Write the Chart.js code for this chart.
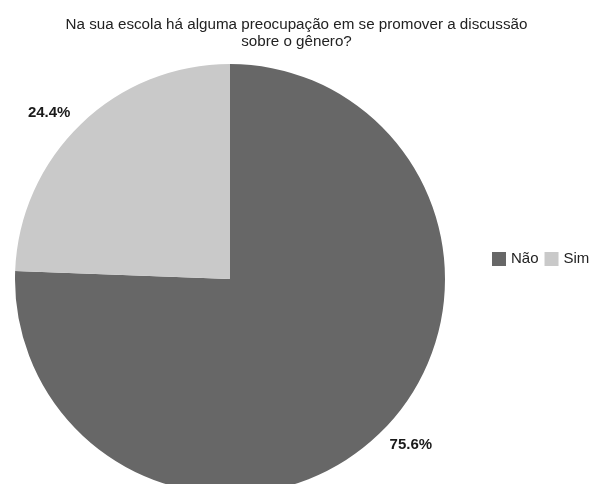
<!DOCTYPE html>
<html>
<head>
<meta charset="utf-8">
<script src="https://cdn.jsdelivr.net/npm/chart.js@4/dist/chart.umd.min.js"></script>
<style>
  html, body { margin: 0; padding: 0; background: #ffffff; overflow: hidden; }
  #wrap { position: relative; width: 593px; height: 494px; }
</style>
</head>
<body>
<div id="wrap"><canvas id="c"></canvas></div>
<script>
// Survey question and answers
const titleLines = ['Na sua escola há alguma preocupação em se promover a discussão', 'sobre o gênero?'];
const categories = ['Não', 'Sim'];
const shares = [75.6, 24.4];
const sliceColors = ['#676767', '#c9c9c9'];

const FONT = '"Liberation Sans", Arial, Helvetica, sans-serif';

// Adds a fixed-width layout box to one side of the chart; an optional draw
// callback paints into it.
function addSideBox(chart, position, width, drawFn) {
  const box = {
    position: position,
    weight: 0,
    fullSize: false,
    options: {},
    left: 0, top: 0, right: 0, bottom: 0, width: 0, height: 0,
    isHorizontal() { return false; },
    update(maxWidth, maxHeight) { this.width = width; this.height = maxHeight; },
    draw() { if (drawFn) drawFn(chart, this); }
  };
  if (Chart.layouts && Chart.layouts.addBox) {
    Chart.layouts.addBox(chart, box);
  } else {
    box._layers = () => [{ z: 0, draw() { box.draw(); } }];
    chart.boxes.push(box);
  }
}

// Single-row legend to the right of the pie
function drawRowLegend(chart, box) {
  const ctx = chart.ctx;
  const sw = 14, gap = 5, itemGap = 6;
  let x = box.left + 47;
  const y = chart.chartArea.top + chart.chartArea.height / 2 - 20;
  ctx.save();
  ctx.font = '15px ' + FONT;
  ctx.textBaseline = 'middle';
  ctx.textAlign = 'left';
  categories.forEach((name, i) => {
    ctx.fillStyle = sliceColors[i];
    ctx.fillRect(x, y - sw / 2, sw, sw);
    x += sw + gap;
    ctx.fillStyle = '#222222';
    ctx.fillText(name, x, y);
    x += ctx.measureText(name).width + itemGap;
  });
  ctx.restore();
}

const sideBoxes = {
  id: 'sideBoxes',
  beforeInit(chart) {
    addSideBox(chart, 'left', 15, null);
    addSideBox(chart, 'right', 148, drawRowLegend);
  }
};

// Percentage labels anchored just outside each slice, on its middle angle,
// with the text running away from the pie
const sliceLabels = {
  id: 'sliceLabels',
  afterDatasetsDraw(chart) {
    const ctx = chart.ctx;
    const meta = chart.getDatasetMeta(0);
    ctx.save();
    ctx.font = 'bold 15px ' + FONT;
    ctx.fillStyle = '#1a1a1a';
    ctx.textBaseline = 'middle';
    meta.data.forEach((arc, i) => {
      const p = arc.getProps(['x', 'y', 'startAngle', 'endAngle', 'outerRadius'], true);
      const mid = (p.startAngle + p.endAngle) / 2;
      const r = p.outerRadius * 1.07;
      ctx.textAlign = Math.cos(mid) >= 0 ? 'left' : 'right';
      ctx.fillText(shares[i].toFixed(1) + '%', p.x + Math.cos(mid) * r, p.y + Math.sin(mid) * r);
    });
    ctx.restore();
  }
};

new Chart(document.getElementById('c'), {
  type: 'pie',
  data: {
    labels: categories,
    datasets: [{
      data: shares,
      backgroundColor: sliceColors,
      borderWidth: 0,
      hoverOffset: 0
    }]
  },
  options: {
    responsive: true,
    maintainAspectRatio: false,
    devicePixelRatio: 1,
    animation: false,
    layout: { padding: 0 },
    plugins: {
      legend: { display: false },
      tooltip: { enabled: false },
      title: {
        display: true,
        text: titleLines,
        color: '#222222',
        font: { family: FONT, size: 15.2, weight: 'normal', lineHeight: 17 / 15.2 },
        padding: { top: 16.5, bottom: 13.5 }
      }
    }
  },
  plugins: [sideBoxes, sliceLabels]
});
</script>
</body>
</html>
